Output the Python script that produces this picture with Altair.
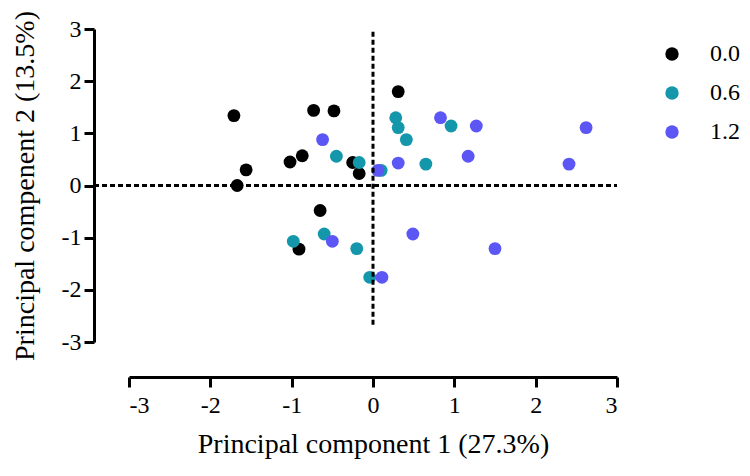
import altair as alt
import pandas as pd

# ---- data ----
group_labels = ["0.0", "0.6", "1.2"]
colors = ["#000000", "#1497AA", "#5B56F4"]

pc1_00 = [-1.71, -0.73, -0.48, -1.56, -1.02, -0.87, -0.25, -0.17, -1.67, -0.65, -0.91, 0.31]
pc2_00 = [1.34, 1.44, 1.43, 0.30, 0.45, 0.57, 0.44, 0.23, 0.00, -0.48, -1.22, 1.80]

pc1_06 = [-0.45, -0.17, 0.10, 0.28, 0.31, 0.41, 0.96, 0.65, -0.98, -0.60, -0.20, -0.04]
pc2_06 = [0.56, 0.44, 0.29, 1.30, 1.11, 0.88, 1.14, 0.41, -1.07, -0.93, -1.21, -1.76]

pc1_12 = [-0.62, 0.06, -0.50, 0.11, 0.31, 0.83, 1.27, 1.17, 2.41, 2.62, 0.49, 1.50]
pc2_12 = [0.88, 0.29, -1.07, -1.76, 0.43, 1.30, 1.14, 0.56, 0.41, 1.11, -0.93, -1.21]

axis_ticks = [-3, -2, -1, 0, 1, 2, 3]

# reference (dashed) lines
hline_x = [-3.43, 3]
vline_y = [-2.67, 3]

x_title = "Principal component 1 (27.3%)"
y_title = "Principal compenent 2 (13.5%)"

rows = []
for g, xs, ys in zip(group_labels, [pc1_00, pc1_06, pc1_12], [pc2_00, pc2_06, pc2_12]):
    for a, b in zip(xs, ys):
        rows.append({"PC1": a, "PC2": b, "group": g})
df = pd.DataFrame(rows)

FONT = "Liberation Serif"

xscale = alt.Scale(domain=[-3, 3], nice=False, zero=False)
yscale = alt.Scale(domain=[-3, 3], nice=False, zero=False)

x_axis = alt.Axis(
    values=axis_ticks, title=x_title, offset=35, grid=False,
    labelExpr="toString(datum.value)",
    domainColor="black", domainWidth=3, tickColor="black", tickWidth=3, tickSize=10,
    labelFont=FONT, labelFontSize=24, labelColor="black", labelPadding=6,
    titleFont=FONT, titleFontSize=28, titleFontWeight="normal", titleColor="black",
    titlePadding=13,
)
y_axis = alt.Axis(
    values=axis_ticks, title=y_title, offset=35, grid=False,
    labelExpr="toString(datum.value)",
    domainColor="black", domainWidth=3, tickColor="black", tickWidth=3, tickSize=10,
    labelFont=FONT, labelFontSize=24, labelColor="black", labelPadding=3,
    titleFont=FONT, titleFontSize=28, titleFontWeight="normal", titleColor="black",
    titlePadding=22,
)

points = alt.Chart(df).mark_circle(size=165, opacity=1).encode(
    x=alt.X("PC1:Q", scale=xscale, axis=x_axis),
    y=alt.Y("PC2:Q", scale=yscale, axis=y_axis),
    color=alt.Color(
        "group:N",
        scale=alt.Scale(domain=group_labels, range=colors),
        legend=alt.Legend(
            title=None, orient="none", legendX=531, legendY=13,
            labelFont=FONT, labelFontSize=24, labelColor="black",
            symbolType="circle", symbolSize=180, labelOffset=26,
            rowPadding=15,
        ),
    ),
    order=alt.Order("order:Q"),
).transform_calculate(order="datum.group == '0.0' ? 0 : (datum.group == '0.6' ? 1 : 2)")

hdf = pd.DataFrame({"x": [hline_x[0]], "x2": [hline_x[1]], "y": [0]})
vdf = pd.DataFrame({"y": [vline_y[0]], "y2": [vline_y[1]], "x": [0]})

hrule = alt.Chart(hdf).mark_rule(color="black", strokeWidth=3, strokeDash=[5, 3]).encode(
    x=alt.X("x:Q", scale=xscale, axis=x_axis), x2="x2:Q",
    y=alt.Y("y:Q", scale=yscale, axis=y_axis),
)
vrule = alt.Chart(vdf).mark_rule(color="black", strokeWidth=3, strokeDash=[5, 3]).encode(
    y=alt.Y("y:Q", scale=yscale, axis=y_axis), y2="y2:Q",
    x=alt.X("x:Q", scale=xscale, axis=x_axis),
)

chart = alt.layer(points, hrule, vrule).properties(
    width=488, height=313,
    autosize=alt.AutoSizeParams(type="none"),
    padding={"left": 121, "top": 21, "right": 125, "bottom": 126},
).configure(
    background="white", font=FONT
).configure_view(
    strokeWidth=0, stroke="transparent"
).configure_axis(
    labelFont=FONT, titleFont=FONT
).configure_legend(
    labelFont=FONT
)

chart.save("out.html", embed_options={"renderer": "svg", "actions": False})
